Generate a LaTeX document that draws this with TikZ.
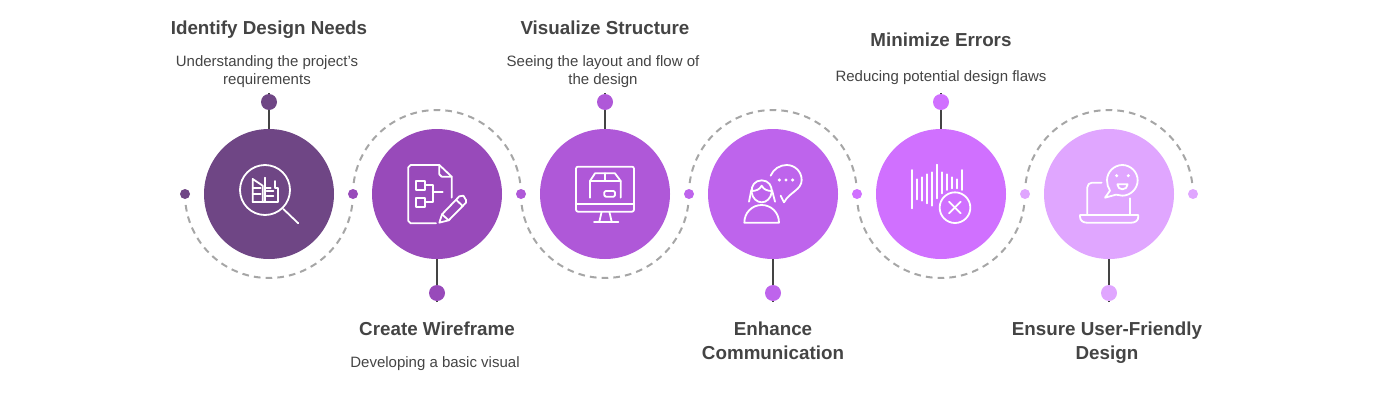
\documentclass[tikz,border=0pt]{standalone}
\usepackage{fontspec}
\setmainfont{Liberation Sans}
\usetikzlibrary{backgrounds}
\definecolor{cA}{HTML}{6F4685}
\definecolor{cB}{HTML}{984ABA}
\definecolor{cC}{HTML}{AF58D8}
\definecolor{cD}{HTML}{BE64EC}
\definecolor{cE}{HTML}{D070FF}
\definecolor{cF}{HTML}{E0A6FF}
\definecolor{ink}{HTML}{444444}
\definecolor{dashgrey}{HTML}{A6A6A6}
\newcommand\tstr{\rule[-3.5pt]{0pt}{14pt}}
\newcommand\bstr{\rule[-3pt]{0pt}{12pt}}
\tikzset{
  bigc/.style={circle,fill=#1,draw=none,minimum size=97.5pt,inner sep=0pt},
  endc/.style={circle,fill=#1,draw=none,minimum size=12pt,inner sep=0pt},
  smallc/.style={circle,fill=#1,draw=none,minimum size=7.5pt,inner sep=0pt},
  stem/.style={draw=ink,line width=1.9pt},
  dashline/.style={draw=dashgrey,line width=1.5pt,dash pattern=on 5pt off 3.82pt},
  titlet/.style={text=ink,font=\fontsize{14.1}{18}\selectfont\bfseries,align=center,inner sep=0pt},
  bodyt/.style={text=ink,font=\fontsize{11.25}{13.5}\selectfont,align=center,inner sep=0pt},
  icon/.style={draw=white,line width=1.35pt,line cap=round,line join=round,fill=none},
  zoomed/.style={x=0.25pt,y=-0.25pt}
}
\begin{document}
\begin{tikzpicture}[x=0.75pt,y=0.75pt]
\useasboundingbox (0,0) rectangle (1400,-400);
% main circles
\node[bigc=cA] (c1) at (269,-194) {};
\node[bigc=cB] (c2) at (437,-194) {};
\node[bigc=cC] (c3) at (605,-194) {};
\node[bigc=cD] (c4) at (773,-194) {};
\node[bigc=cE] (c5) at (941,-194) {};
\node[bigc=cF] (c6) at (1109,-194) {};
% end dots
\node[endc=cA] (e1) at (269,-102) {};
\node[endc=cB] (e2) at (437,-293) {};
\node[endc=cC] (e3) at (605,-102) {};
\node[endc=cD] (e4) at (773,-293) {};
\node[endc=cE] (e5) at (941,-102) {};
\node[endc=cF] (e6) at (1109,-293) {};
% small dots
\node[smallc=cA] (s1) at (185,-194) {};
\node[smallc=cB] (s2) at (353,-194) {};
\node[smallc=cC] (s3) at (521,-194) {};
\node[smallc=cD] (s4) at (689,-194) {};
\node[smallc=cE] (s5) at (857,-194) {};
\node[smallc=cF] (s6) at (1025,-194) {};
\node[smallc=cF] (s7) at (1193,-194) {};
% connectors behind
\coordinate (t1) at (269,-92.8);
\coordinate (t2) at (437,-302.2);
\coordinate (t3) at (605,-92.8);
\coordinate (t4) at (773,-302.2);
\coordinate (t5) at (941,-92.8);
\coordinate (t6) at (1109,-302.2);
\begin{scope}[on background layer]
\draw[stem] (t1) -- (c1);
\draw[stem] (t2) -- (c2);
\draw[stem] (t3) -- (c3);
\draw[stem] (t4) -- (c4);
\draw[stem] (t5) -- (c5);
\draw[stem] (t6) -- (c6);
\path[dashline] (s1.center) ++(0.49pt,-8.22pt) arc[start angle=187.5,end angle=352.5,radius=63pt];
\path[dashline] (s2.center) ++(0.49pt,8.22pt) arc[start angle=172.5,end angle=7.5,radius=63pt];
\path[dashline] (s3.center) ++(0.49pt,-8.22pt) arc[start angle=187.5,end angle=352.5,radius=63pt];
\path[dashline] (s4.center) ++(0.49pt,8.22pt) arc[start angle=172.5,end angle=7.5,radius=63pt];
\path[dashline] (s5.center) ++(0.49pt,-8.22pt) arc[start angle=187.5,end angle=352.5,radius=63pt];
\path[dashline] (s6.center) ++(0.49pt,8.22pt) arc[start angle=172.5,end angle=7.5,radius=63pt];
\end{scope}
% texts
\node[titlet] (h1) at (269,-29.8) {\tstr Identify Design Needs};
\node[bodyt] (b1) at (267,-71) {\bstr Understanding the project's\\\bstr requirements};
\node[titlet] (h2) at (437,-330.8) {\tstr Create Wireframe};
\node[bodyt] (b2) at (435,-363) {\bstr Developing a basic visual};
\node[titlet] (h3) at (605,-29.8) {\tstr Visualize Structure};
\node[bodyt] (b3) at (603,-71) {\bstr Seeing the layout and flow of\\\bstr the design};
\node[titlet] (h4) at (773,-342.8) {\tstr Enhance\\\tstr Communication};
\node[titlet] (h5) at (941,-41.8) {\tstr Minimize Errors};
\node[bodyt] (b5) at (941,-77) {\bstr Reducing potential design flaws};
\node[titlet] (h6) at (1107,-342.8) {\tstr Ensure User-Friendly\\\tstr Design};
% icon 1
\begin{scope}[shift={(230,-155)},zoomed]
\draw[icon] (105,105) circle[radius=18.75pt];
\draw[icon] (160,162) -- (205,205);
\draw[icon] (68,140) -- (68,72) -- (98,92) -- (98,140);
\draw[icon] (104,68) -- (104,140);
\draw[icon] (68,140) -- (145,140) -- (145,100) -- (135,100) -- (135,78);
\draw[icon] (104,100) -- (122,100);
\draw[icon] (68,100) -- (92,100);
\draw[icon] (68,118) -- (92,118);
\draw[icon] (110,108) -- (130,108);
\draw[icon] (110,122) -- (130,122);
\end{scope}
% icon 2
\begin{scope}[shift={(400,-155)},zoomed]
\draw[icon] (118,30) -- (32,30) -- (25,37) -- (25,198) -- (32,205) -- (108,205);
\draw[icon] (118,30) -- (155,65) -- (155,128);
\draw[icon] (118,30) -- (118,58) -- (125,65) -- (155,65);
\draw[icon] (47,78) rectangle (75,105);
\draw[icon] (47,128) rectangle (75,155);
\draw[icon] (75,90) -- (98,90) -- (98,142) -- (75,142);
\draw[icon] (98,112) -- (128,112);
\draw[icon] (118,203) -- (126,178) -- (178,124) -- (190,122) -- (198,135) -- (198,143) -- (146,196) -- cycle;
\draw[icon] (168,134) -- (188,153);
\draw[icon] (126,178) -- (146,196);
\end{scope}
% icon 3
\begin{scope}[shift={(565,-155)},zoomed]
\draw[icon,rounded corners=1.5pt] (33,35) rectangle (207,170);
\draw[icon] (33,148) -- (207,148);
\draw[icon] (110,170) -- (103,200);
\draw[icon] (133,170) -- (140,200);
\draw[icon] (87,200) -- (160,200);
\draw[icon] (75,128) -- (75,78) -- (90,55) -- (150,55) -- (167,78) -- (167,128);
\draw[icon] (75,78) -- (167,78);
\draw[icon] (120,55) -- (120,78);
\draw[icon,rounded corners=1pt] (118,108) rectangle (150,125);
\end{scope}
% icon 4
\begin{scope}[shift={(735,-155)},zoomed]
\draw[icon] (107,62) .. controls (115,42) and (135,30) .. (155,30) .. controls (180,30) and (200,50) .. (200,75) .. controls (200,105) and (165,110) .. (147,142) -- (137,122);
\fill[white] (133,75) circle[radius=1.3pt] (153,75) circle[radius=1.3pt] (173,75) circle[radius=1.3pt];
\draw[icon] (80,76) .. controls (60,76) and (48,92) .. (50,112) .. controls (52,130) and (66,142) .. (80,142) .. controls (94,142) and (108,130) .. (110,112) .. controls (112,92) and (100,76) .. (80,76);
\draw[icon] (50,108) .. controls (62,108) and (74,104) .. (80,92) .. controls (86,104) and (98,108) .. (110,108);
\draw[icon] (49,105) -- (42,140);
\draw[icon] (111,105) -- (120,140);
\draw[icon] (28,203) .. controls (28,172) and (52,150) .. (80,150) .. controls (108,150) and (132,172) .. (132,203) -- cycle;
\end{scope}
% icon 5
\begin{scope}[shift={(860,-90)},zoomed]
\draw[icon] (156,240) -- (156,355);
\draw[icon] (171,268) -- (171,328);
\draw[icon] (186,262) -- (186,332);
\draw[icon] (201,253) -- (201,340);
\draw[icon] (216,247) -- (216,347);
\draw[icon] (231,224) -- (231,325);
\draw[icon] (246,247) -- (246,310);
\draw[icon] (261,253) -- (261,300);
\draw[icon] (276,262) -- (276,295);
\draw[icon] (291,268) -- (291,295);
\draw[icon] (306,240) -- (306,300);
\draw[icon] (285,353) circle[radius=11.5pt];
\draw[icon] (267,335) -- (302,370);
\draw[icon] (302,335) -- (267,370);
\end{scope}
% icon 6
\begin{scope}[shift={(860,-90)},zoomed]
\draw[icon] (725,278) -- (696,278) .. controls (688,278) and (682,284) .. (682,292) -- (682,375);
\draw[icon] (810,325) -- (810,375);
\draw[icon] (660,375) -- (835,375) -- (835,380) .. controls (835,392) and (825,398) .. (815,398) -- (680,398) .. controls (670,398) and (660,392) .. (660,380) -- cycle;
\draw[icon] (750,302) -- (735,323) -- (768,314) .. controls (775,317) and (780,317) .. (787,317) .. controls (812,317) and (833,296) .. (833,271) .. controls (833,246) and (812,225) .. (787,225) .. controls (762,225) and (741,246) .. (741,271) .. controls (741,282) and (744,293) .. (750,302);
\fill[white] (770,257) circle[radius=1.3pt] (805,257) circle[radius=1.3pt];
\draw[icon] (772,283) -- (803,283) .. controls (802,292) and (796,298) .. (787,298) .. controls (779,298) and (773,292) .. (772,283) -- cycle;
\end{scope}
\end{tikzpicture}
\end{document}
